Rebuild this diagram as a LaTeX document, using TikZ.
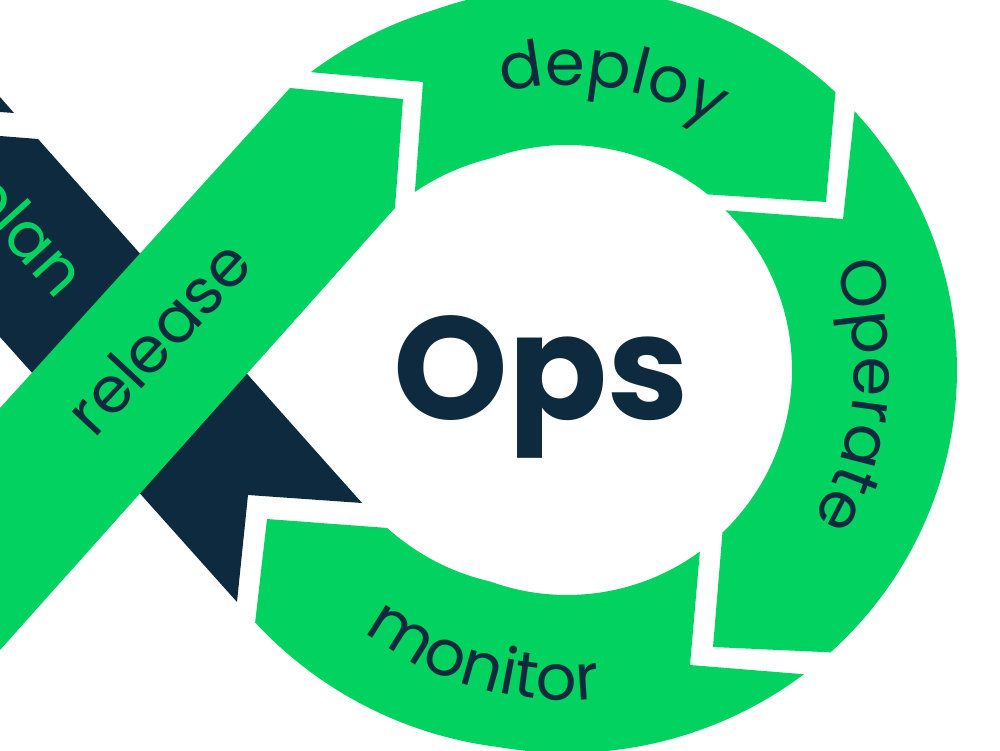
\documentclass[tikz,border=0pt]{standalone}
\usepackage{fontspec}
\setmainfont{Poppins}
\usepackage{tikz}
\usetikzlibrary{decorations.text}
\definecolor{loopgreen}{RGB}{2,211,96}
\definecolor{loopnavy}{RGB}{14,42,62}
\newcommand{\stepfont}{\fontsize{64}{70}\selectfont}

\begin{document}
\begin{tikzpicture}[
  x=1pt, y=1pt,
  ringseg/.style={fill=loopgreen},
  band/.style={fill=loopnavy},
  steplabel/.style={font=\stepfont, text=loopnavy, inner sep=0pt},
  arclabel/.style={decorate, decoration={text along path, text align={center}, text color=loopnavy}}
]
\clip (0,0) rectangle (1000,750);
\coordinate (hub) at (567,380);
% plan band, under the release band
\fill[band] (0,614) -- (38,611) -- (362,247) -- (248,255) -- (237,148) -- (0,413) -- cycle;
\fill[band] (0,653) -- (14,637) -- (0,638) -- cycle;
% release band
\fill[ringseg] (0,342) -- (290,662) -- (403,651) -- (395,542) -- (0,100) -- cycle;
% deploy
\fill[ringseg] plot[domain=130.2:46.5, samples=60] ({567+390*(1+0.0009*max(0,(\x)-110))*cos(\x)}, {380+383*(1+0.0009*max(0,(\x)-110))*sin(\x)})
  -- (826,548) -- plot[domain=51.3:130.5, samples=60] ({567+(225+0.45*max(0,(\x)-110))*cos(\x)}, {380+(225+0.45*max(0,(\x)-110))*sin(\x)})
  -- (423,668) -- cycle;
% operate
\fill[ringseg] plot[domain=42.5:-47.5, samples=60] ({567+390*cos(\x)}, {380+383*sin(\x)})
  -- (713,103) -- plot[domain=-46.3:45.2, samples=60] ({567+225*cos(\x)}, {380+225*sin(\x)})
  -- (843,531) -- cycle;
% monitor
\fill[ringseg] plot[domain=-52.6:-140.5, samples=60] ({567+390*(1+0.0009*max(0,-(\x)-100))*cos(\x)}, {380+383*(1+0.0009*max(0,-(\x)-100))*sin(\x)})
  -- (267,231) -- plot[domain=-138.7:-53.8, samples=60] ({567+(225+0.5*max(0,-(\x)-110))*cos(\x)}, {380+(225+0.5*max(0,-(\x)-110))*sin(\x)})
  -- (690,85) -- cycle;
% labels
\node[font=\fontsize{146}{150}\selectfont\bfseries, text=loopnavy, anchor=base] (ops) at (541,330) {Ops};
\node[steplabel, rotate=47] (release) at (158,413) {release};
\node[steplabel, text=loopgreen, rotate=-48] (plan) at (20,513) {plan};
\path[arclabel, decoration={text={|\stepfont|deploy}}] (hub) ++(121:285pt) arc[start angle=121, end angle=41, radius=285pt];
\path[arclabel, decoration={text={|\stepfont|Operate}}] (hub) ++(40:287pt) arc[start angle=40, end angle=-50, radius=287pt];
\path[arclabel, decoration={text={|\stepfont|monitor}}] (hub) ++(-151:330pt) arc[start angle=-151, end angle=-61, radius=330pt];
\end{tikzpicture}
\end{document}
